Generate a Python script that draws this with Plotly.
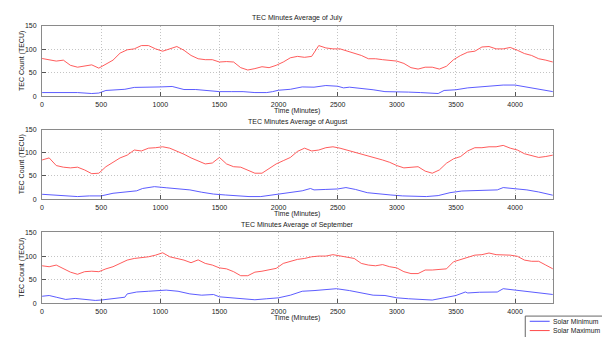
import plotly.graph_objects as go

# ---------------- data ----------------
minutes = list(range(0, 4321, 60))

jul_max = [80.5, 78, 75, 77, 66, 62, 64, 67, 60, 69,
           77, 92, 99, 101, 108, 108, 101, 96, 101, 106,
           98, 87, 80, 78, 78, 73, 74, 73, 61, 56,
           59, 63, 61, 66, 73, 82, 85, 83, 85, 108,
           103, 101, 101, 96, 92, 87, 80, 80, 78, 76,
           75, 70, 61, 58, 62, 62, 58, 64, 78, 87,
           94, 96, 105, 106, 101, 101, 104, 98, 91, 87,
           80, 77, 73]

aug_max = [84.5, 89, 72.5, 69, 67.5, 69, 63, 55, 56, 70,
           79.5, 89, 95, 106, 104, 110, 111, 113, 110, 104,
           97, 89, 83, 76, 78, 90, 76, 70, 69, 62,
           56, 56, 65.5, 76, 83, 90, 103, 110, 104, 106,
           111, 113, 110, 106, 101, 98, 94, 90, 84.5, 79.5,
           72.5, 67.5, 69, 70, 60.5, 56, 63, 77.5, 87, 92,
           104, 111, 111, 113, 113, 116, 110, 106, 98, 94,
           90, 92, 95]

sep_max = [79.5, 77.5, 81, 73, 66, 61.5, 67, 68, 67, 73,
           77.5, 84.5, 91.5, 95, 96.5, 98.5, 102, 107, 98.5, 95,
           91.5, 86, 92, 84.5, 81, 75, 73, 67, 58.5, 58.5,
           66, 68, 70.5, 74, 84.5, 89, 93, 95, 98.5, 100,
           100, 103, 100, 98.5, 95, 84.5, 81, 79.5, 82, 77.5,
           75, 67, 63, 63, 70.5, 70.5, 72, 73, 88, 93,
           96.5, 102, 103, 106.5, 103, 103, 102, 99.5, 91.5, 89,
           89, 81, 73]

jul_min_t = [0, 300, 420, 480, 540, 600, 700, 780, 900, 1000, 1100, 1150, 1200,
             1300, 1400, 1500, 1600, 1700, 1800, 1900, 1950, 2000, 2100, 2200,
             2300, 2400, 2500, 2550, 2600, 2700, 2800, 2900, 3000, 3100, 3200,
             3300, 3350, 3400, 3500, 3600, 3700, 3800, 3900, 4000, 4100, 4200, 4320]
jul_min = [8, 8, 6, 7, 12.5, 13, 15, 19, 19, 20, 21, 17, 14.5,
           14.5, 12.5, 10, 10, 10, 8, 8, 10, 13, 15, 20,
           19.5, 23, 21.5, 18, 19.5, 17, 14, 10, 10, 9, 8,
           7.5, 6, 12.5, 14, 18, 20, 23, 24, 24, 19.5, 14.5, 10]

aug_min_t = [0, 100, 200, 300, 400, 500, 600, 700, 800, 850, 950, 1050, 1150,
             1250, 1350, 1450, 1550, 1650, 1750, 1850, 1950, 2050, 2150, 2200,
             2270, 2300, 2400, 2500, 2570, 2650, 2750, 2850, 2950, 3050, 3150,
             3250, 3350, 3450, 3550, 3650, 3750, 3850, 3900, 4000, 4100, 4200, 4320]
aug_min = [10.5, 9, 7, 5.6, 7, 7, 12.7, 16, 18, 23, 27, 24.6, 22,
           20, 15, 11, 9, 7, 5.6, 5.6, 9, 12.7, 16, 18,
           23, 20, 21, 22, 25, 21, 14, 11, 9, 7, 5.6,
           5.6, 7.7, 14, 17.6, 18, 20, 20, 25, 22.5, 20, 15.5, 8.5]

sep_min_t = [0, 60, 120, 200, 280, 350, 450, 500, 600, 700, 720, 800, 900,
             1000, 1050, 1150, 1250, 1350, 1450, 1500, 1600, 1700, 1800, 1900,
             2000, 2100, 2200, 2300, 2400, 2490, 2600, 2700, 2800, 2900, 3000,
             3100, 3200, 3300, 3400, 3500, 3580, 3600, 3700, 3850, 3900, 4000,
             4100, 4200, 4320]
sep_min = [15, 16.6, 13, 8.3, 10.4, 8.3, 6.2, 7, 9.7, 13, 20, 24, 25.6,
           27, 28, 25.6, 20, 17.3, 18.7, 13.8, 11.7, 10.4, 7.6, 9.7,
           11.7, 17.3, 25.6, 27, 29, 31, 27, 22, 17.3, 16.6, 11.7,
           9.7, 8.3, 7, 11.7, 16.6, 24, 22, 23.5, 24, 31, 28,
           24, 22, 18.7]

months = ["July", "August", "September"]
series_names = ["Solar Minimum", "Solar Maximum"]
x_ticks = [0, 500, 1000, 1500, 2000, 2500, 3000, 3500, 4000]
y_ticks = [0, 50, 100, 150]

# ---------------- figure ----------------
W, H = 602, 337
RED = "#ff4a4a"
BLUE = "#4a4aff"
FONT = dict(family="Liberation Sans, Arial", size=7, color="#222222")
LFONT = dict(family="Liberation Sans, Arial", size=6.8, color="#222222")

fig = go.Figure()

panels = [
    (minutes, jul_max, jul_min_t, jul_min),
    (minutes, aug_max, aug_min_t, aug_min),
    (minutes, sep_max, sep_min_t, sep_min),
]
boxes = [(22.3, 94.3), (128.3, 199.3), (233.3, 305.7)]
x_left, x_right = 40.2, 552.7

axis_common = dict(
    showline=True, mirror=True, linecolor="#8a8a8a", linewidth=1,
    showgrid=True, gridcolor="#c4c4c4", griddash="1px,2px", gridwidth=1,
    ticks="inside", ticklen=4, tickcolor="#555555",
    tickfont=FONT, zeroline=False,
)

for i, (tmax, vmax, tmin, vmin) in enumerate(panels):
    n = "" if i == 0 else str(i + 1)
    fig.add_trace(go.Scatter(x=tmin, y=vmin, mode="lines", name=series_names[0],
                             line=dict(color=BLUE, width=0.9), showlegend=False,
                             xaxis="x" + n, yaxis="y" + n))
    fig.add_trace(go.Scatter(x=tmax, y=vmax, mode="lines", name=series_names[1],
                             line=dict(color=RED, width=0.9), showlegend=False,
                             xaxis="x" + n, yaxis="y" + n))
    top, bot = boxes[i]
    fig.update_layout({
        "xaxis" + n: dict(axis_common, domain=[x_left / W, x_right / W],
                          range=[0, 4320], tickvals=x_ticks, anchor="y" + n,
                          ticklabelstandoff=1),
        "yaxis" + n: dict(axis_common, domain=[1 - bot / H, 1 - top / H],
                          range=[0, 150], tickvals=y_ticks, anchor="x" + n,
                          ticklabelstandoff=3),
    })
    cx = (x_left + x_right) / 2 / W
    fig.add_annotation(text="TEC Minutes Average of " + months[i], x=cx, y=1 - (top - 8) / H,
                       xref="paper", yref="paper", showarrow=False, font=FONT,
                       xanchor="center", yanchor="middle")
    fig.add_annotation(text="Time (Minutes)", x=cx, y=1 - (bot + 15.2) / H,
                       xref="paper", yref="paper", showarrow=False, font=FONT,
                       xanchor="center", yanchor="middle")
    fig.add_annotation(text="TEC Count (TECU)", x=20 / W, y=1 - (top + bot) / 2 / H,
                       xref="paper", yref="paper", showarrow=False, font=FONT,
                       textangle=-90, xanchor="center", yanchor="middle")

# legend box, partially outside the window like in the reference
fig.add_shape(type="rect", xref="paper", yref="paper",
              x0=525 / W, x1=640 / W, y0=1 - 345 / H, y1=1 - 318.7 / H,
              line=dict(color="#666666", width=1), fillcolor="white", layer="above")
for k, (name, col) in enumerate(zip(series_names, [BLUE, RED])):
    yy = 1 - (324 + 9.5 * k) / H
    fig.add_shape(type="line", xref="paper", yref="paper",
                  x0=529.5 / W, x1=549.5 / W, y0=yy, y1=yy,
                  line=dict(color=col, width=1), layer="above")
    fig.add_annotation(text=name, x=551.5 / W, y=yy, xref="paper", yref="paper",
                       showarrow=False, font=LFONT, xanchor="left", yanchor="middle",
                       borderpad=0)

fig.update_layout(
    width=W, height=H,
    margin=dict(l=0, r=0, t=0, b=0),
    paper_bgcolor="white", plot_bgcolor="white",
    showlegend=False,
)

fig.write_html("out.html", config={"displayModeBar": False},
               post_script="document.body.style.margin='0';document.body.style.overflow='hidden';")
